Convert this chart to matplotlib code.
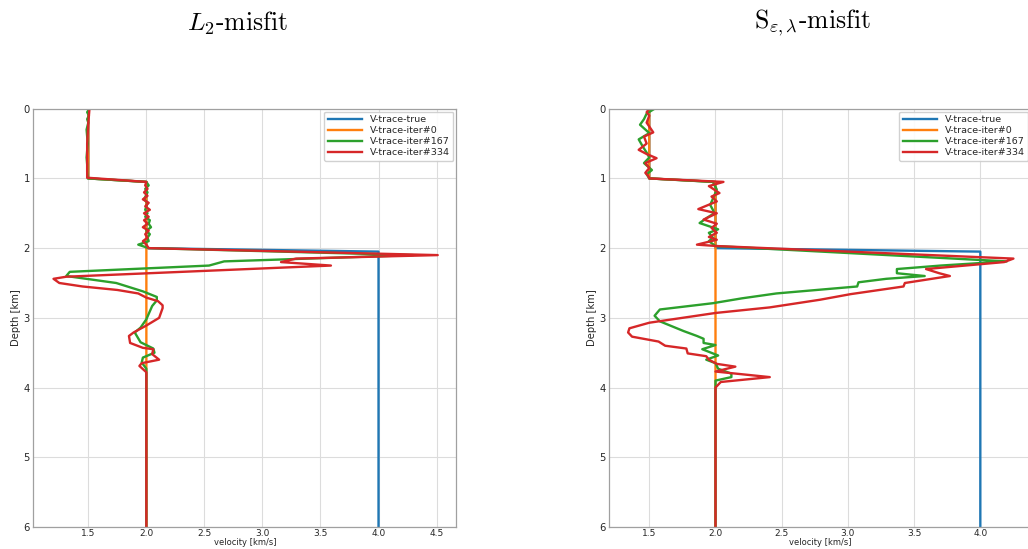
import matplotlib
matplotlib.use("Agg")
import matplotlib.pyplot as plt
from matplotlib.ticker import FormatStrFormatter

plt.rcParams['mathtext.fontset'] = 'cm'
plt.rcParams['font.family'] = ['DejaVu Sans']

# ---------------- data ----------------
labels = ["V-trace-true", "V-trace-iter#0", "V-trace-iter#167", "V-trace-iter#334"]
colors = ["#1f77b4", "#ff7f0e", "#2ca02c", "#d62728"]

true_depth = [0.0, 1.0, 1.05, 2.0, 2.05, 6.0]
true_vel = [1.5, 1.5, 2.0, 2.0, 4.0, 4.0]

init_depth = [0.0, 1.0, 1.05, 6.0]
init_vel = [1.5, 1.5, 2.0, 2.0]

# L2-misfit panel
l2_g_depth = [0.0, 0.05, 0.1, 0.15, 0.2, 0.3, 0.4, 0.5, 0.6, 0.7, 0.8, 0.9, 1.0,
              1.05, 1.1, 1.15, 1.2, 1.3, 1.35, 1.45, 1.5, 1.55, 1.6, 1.65, 1.7, 1.75,
              1.8, 1.85, 1.9, 1.95, 2.0, 2.1, 2.19, 2.25, 2.34, 2.4, 2.5, 2.62, 2.7,
              2.75, 2.83, 3.02, 3.14, 3.21, 3.35, 3.44, 3.5, 3.57, 3.64, 3.73, 6.0]
l2_g_vel = [1.51, 1.49, 1.505, 1.49, 1.5, 1.485, 1.49, 1.495, 1.49, 1.485, 1.49, 1.49, 1.495,
            2.0, 2.02, 1.99, 2.01, 1.98, 2.01, 1.99, 2.01, 1.99, 2.03, 2.02, 2.04, 2.0,
            2.03, 2.01, 2.02, 1.93, 2.02, 4.3, 2.67, 2.54, 1.34, 1.31, 1.74, 1.97, 2.09,
            2.09, 2.05, 2.0, 1.95, 1.9, 1.95, 2.06, 2.07, 1.97, 1.96, 2.0, 2.0]

l2_r_depth = [0.0, 0.2, 0.5, 0.8, 0.99,
              1.05, 1.1, 1.15, 1.2, 1.25, 1.3, 1.35, 1.4, 1.45, 1.5, 1.55, 1.6, 1.65,
              1.7, 1.75, 1.8, 1.85, 1.9, 1.95, 2.0, 2.1, 2.15, 2.2, 2.25, 2.41, 2.44,
              2.5, 2.55, 2.6, 2.65, 2.71, 2.76, 2.82, 2.86, 3.0, 3.11, 3.21, 3.26, 3.36,
              3.43, 3.45, 3.52, 3.6, 3.65, 3.69, 3.78, 6.0]
l2_r_vel = [1.51, 1.5, 1.49, 1.49, 1.49,
            2.0, 1.99, 2.01, 1.98, 2.01, 1.97, 2.02, 1.99, 2.03, 1.98, 2.02, 1.98, 2.01,
            1.97, 2.02, 1.99, 2.01, 1.97, 2.0, 2.02, 4.51, 3.29, 3.16, 3.59, 1.31, 1.2,
            1.25, 1.45, 1.75, 1.93, 2.0, 2.1, 2.14, 2.14, 2.11, 2.0, 1.89, 1.85, 1.86,
            1.97, 2.06, 2.05, 2.11, 1.96, 1.94, 2.0, 2.0]

# S-misfit panel
s_g_depth = [0.0, 0.07, 0.15, 0.23, 0.35, 0.44, 0.54, 0.63, 0.7, 0.78, 0.88, 0.94, 1.0,
             1.05, 1.16, 1.25, 1.38, 1.45, 1.5, 1.56, 1.64, 1.73, 1.78, 1.85, 1.9, 1.97,
             2.19, 2.25, 2.3, 2.36, 2.4, 2.44, 2.49, 2.55, 2.65, 2.72, 2.79, 2.88, 2.97,
             3.05, 3.19, 3.26, 3.3, 3.36, 3.39, 3.45, 3.54, 3.6, 3.65, 3.73, 3.8, 3.85,
             3.9, 4.0, 6.0]
s_g_vel = [1.54, 1.48, 1.46, 1.43, 1.5, 1.42, 1.45, 1.48, 1.5, 1.46, 1.52, 1.48, 1.5,
           1.98, 2.01, 1.99, 1.96, 1.98, 1.99, 1.94, 1.88, 2.02, 1.95, 1.98, 1.95, 2.0,
           4.2, 3.7, 3.37, 3.37, 3.58, 3.29, 3.08, 3.07, 2.46, 2.2, 1.98, 1.58, 1.54,
           1.58, 1.76, 1.86, 1.91, 1.91, 2.0, 1.9, 2.02, 1.93, 2.0, 2.02, 2.12, 2.12,
           2.0, 2.0, 2.0]

s_r_depth = [0.0, 0.05, 0.1, 0.2, 0.34, 0.4, 0.5, 0.59, 0.65, 0.71, 0.78, 0.85, 0.92,
             0.96, 1.0, 1.05, 1.11, 1.21, 1.26, 1.33, 1.44, 1.5, 1.59, 1.65, 1.71, 1.78,
             1.84, 1.88, 1.95, 1.97, 2.15, 2.2, 2.3, 2.36, 2.4, 2.5, 2.55, 2.66, 2.74,
             2.85, 2.93, 3.07, 3.15, 3.21, 3.27, 3.34, 3.4, 3.44, 3.51, 3.55, 3.6, 3.66,
             3.7, 3.77, 3.85, 3.92, 4.0, 6.0]
s_r_vel = [1.5, 1.48, 1.5, 1.48, 1.53, 1.46, 1.48, 1.42, 1.48, 1.555, 1.47, 1.5, 1.47,
           1.49, 1.5, 2.06, 1.95, 2.03, 1.97, 2.01, 1.87, 2.01, 1.91, 2.01, 1.97, 2.01,
           1.95, 2.01, 1.86, 2.01, 4.25, 4.18, 3.59, 3.69, 3.77, 3.43, 3.42, 3.02, 2.79,
           2.41, 2.0, 1.5, 1.35, 1.34, 1.37, 1.57, 1.62, 1.78, 1.79, 1.93, 1.95, 2.01,
           2.15, 2.0, 2.41, 2.04, 2.0, 2.0]

depth_ticks = [0, 1, 2, 3, 4, 5, 6]
vel_ticks_l2 = [1.5, 2.0, 2.5, 3.0, 3.5, 4.0, 4.5]
vel_ticks_s = [1.5, 2.0, 2.5, 3.0, 3.5, 4.0]

# ---------------- figure ----------------
W, H = 1028, 549
fig = plt.figure(figsize=(W / 100, H / 100), dpi=100)

panels = [
    dict(rect=[33.3 / W, 22 / H, 423 / W, 418.3 / H], xlim=(1.026, 4.67),
         xticks=vel_ticks_l2,
         green=(l2_g_depth, l2_g_vel), red=(l2_r_depth, l2_r_vel),
         title=r'$L_2$-misfit', tx=237),
    dict(rect=[609.3 / W, 22 / H, 422 / W, 418.3 / H], xlim=(1.198, 4.385),
         xticks=vel_ticks_s,
         green=(s_g_depth, s_g_vel), red=(s_r_depth, s_r_vel),
         title=r'S$_{\varepsilon,\lambda}$-misfit', tx=812),
]

text_col = '#262626'
for p in panels:
    ax = fig.add_axes(p['rect'])
    ax.plot(true_vel, true_depth, color=colors[0], lw=1.7, label=labels[0])
    ax.plot(init_vel, init_depth, color=colors[1], lw=1.7, label=labels[1])
    ax.plot(p['green'][1], p['green'][0], color=colors[2], lw=1.7, label=labels[2])
    ax.plot(p['red'][1], p['red'][0], color=colors[3], lw=1.7, label=labels[3])
    ax.set_yticks(depth_ticks)
    ax.set_xticks(p['xticks'])
    ax.set_ylim(6, 0)
    ax.set_xlim(*p['xlim'])
    ax.xaxis.set_major_formatter(FormatStrFormatter('%.1f'))
    ax.grid(True, color='#dcdcdc', lw=0.8)
    ax.set_axisbelow(True)
    for s in ax.spines.values():
        s.set_color('#a0a0a0')
        s.set_linewidth(0.9)
    ax.tick_params(axis='x', length=0, labelsize=6.5, colors=text_col, pad=1.5)
    ax.tick_params(axis='y', length=0, labelsize=7.2, colors=text_col, pad=2.5)
    ax.set_xlabel('velocity [km/s]', fontsize=6.0, color=text_col, labelpad=0)
    ax.set_ylabel('Depth [km]', fontsize=7.2, color=text_col, labelpad=2)
    leg = ax.legend(loc='upper right', fontsize=6.8, handlelength=3.6,
                    labelspacing=0.2, borderaxespad=0.3, borderpad=0.4,
                    fancybox=True, framealpha=0.9, edgecolor='#cccccc')
    for t in leg.get_texts():
        t.set_color(text_col)
    fig.text(p['tx'] / W, 1 - 23 / H, p['title'], fontsize=18.5,
             family='cmr10', ha='center', va='center', color='black')

fig.savefig('out.png', dpi=100)
